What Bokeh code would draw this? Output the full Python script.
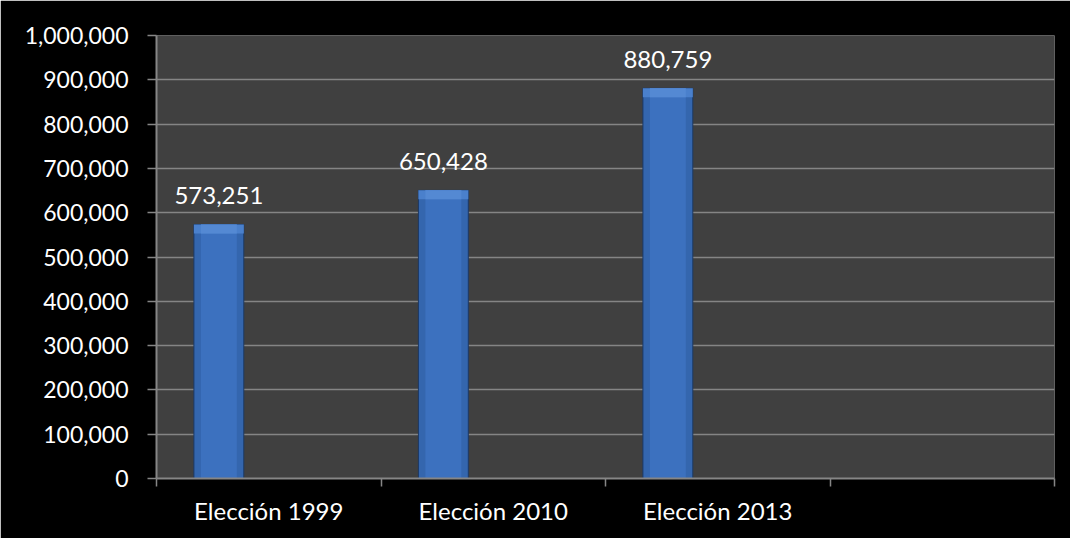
from bokeh.plotting import figure
from bokeh.models import ColumnDataSource, FixedTicker, NumeralTickFormatter, Range1d, BoxAnnotation
from bokeh.core.properties import value
from bokeh.embed import file_html
from bokeh.resources import INLINE

# ---- data ----
categories = ["Elección 1999", "Elección 2010", "Elección 2013", ""]
votes = [573251, 650428, 880759]
value_labels = ["573,251", "650,428", "880,759"]
y_ticks = [0, 100000, 200000, 300000, 400000, 500000, 600000, 700000, 800000, 900000, 1000000]
y_max = 1000000

# ---- clustered bar geometry: 3 series slots, 150% gap ----
n_slots = 3
gap = 1.5
slot = 1.0 / (n_slots + gap)
idx = list(range(len(votes)))
xc = [i + 0.5 - slot for i in idx]
bevel = 0.02 * y_max
bevel_bottom = [v - bevel for v in votes]

src = ColumnDataSource(dict(x=xc, top=votes, bb=bevel_bottom, label=value_labels))

FONT = "Lato"
AX = "#868686"

p = figure(width=1070, height=538, output_backend="svg", toolbar_location=None,
           x_range=Range1d(0, len(categories)), y_range=Range1d(0, y_max),
           min_border_left=156, min_border_right=16, min_border_top=35, min_border_bottom=60,
           background_fill_color="#404040", border_fill_color="#000000")
p.outline_line_color = None

# bars
p.vbar(x="x", top="top", bottom=0, width=slot, source=src,
       fill_color="#3466ae", line_color="#1c3966", line_width=1)
p.vbar(x="x", top="top", bottom=0, width=slot * 0.72, source=src,
       fill_color="#3c71bf", line_color=None)
p.vbar(x="x", top="top", bottom="bb", width=slot, source=src,
       fill_color="#4a80cc", line_color=None)
p.vbar(x="x", top="top", bottom="bb", width=slot * 0.72, source=src,
       fill_color="#5489d3", line_color=None)

# value labels
p.text(x="x", y="top", text="label", source=src, text_align="center",
       text_baseline="alphabetic", y_offset=-29, text_color="#ffffff",
       text_font=value(FONT), text_font_size="24px")

# x axis
xa = p.xaxis[0]
xa.ticker = FixedTicker(ticks=[i + 0.5 for i in range(len(categories))],
                        minor_ticks=list(range(len(categories) + 1)))
xa.major_label_overrides = {i + 0.5: c for i, c in enumerate(categories)}
xa.major_tick_out = 0
xa.major_tick_in = 0
xa.minor_tick_out = 8
xa.minor_tick_in = 0
xa.minor_tick_line_color = AX
xa.minor_tick_line_width = 1.5
xa.axis_line_color = AX
xa.axis_line_width = 2
xa.major_label_text_color = "#ffffff"
xa.major_label_text_font = FONT
xa.major_label_text_font_size = "24px"
xa.major_label_standoff = 9

# y axis
ya = p.yaxis[0]
ya.ticker = FixedTicker(ticks=y_ticks, minor_ticks=[])
ya.formatter = NumeralTickFormatter(format="0,0")
ya.major_tick_out = 9
ya.major_tick_in = 0
ya.major_tick_line_color = AX
ya.major_tick_line_width = 1.5
ya.minor_tick_line_color = None
ya.axis_line_color = AX
ya.axis_line_width = 2
ya.major_label_text_color = "#ffffff"
ya.major_label_text_font = FONT
ya.major_label_text_font_size = "23px"
ya.major_label_standoff = 19

p.xgrid.grid_line_color = None
p.ygrid.grid_line_color = "#858585"
p.ygrid.grid_line_width = 1.5

# white page margin strips seen in the reference (left and top)
p.add_layout(BoxAnnotation(left=0, right=6, top=0, bottom=538,
                           left_units="canvas", right_units="canvas",
                           top_units="canvas", bottom_units="canvas",
                           fill_color="#ffffff", fill_alpha=1, line_color=None, level="overlay"))
p.add_layout(BoxAnnotation(left=0, right=1070, top=0, bottom=5,
                           left_units="canvas", right_units="canvas",
                           top_units="canvas", bottom_units="canvas",
                           fill_color="#ffffff", fill_alpha=1, line_color=None, level="overlay"))

open("out.html", "w").write(file_html(p, INLINE))
